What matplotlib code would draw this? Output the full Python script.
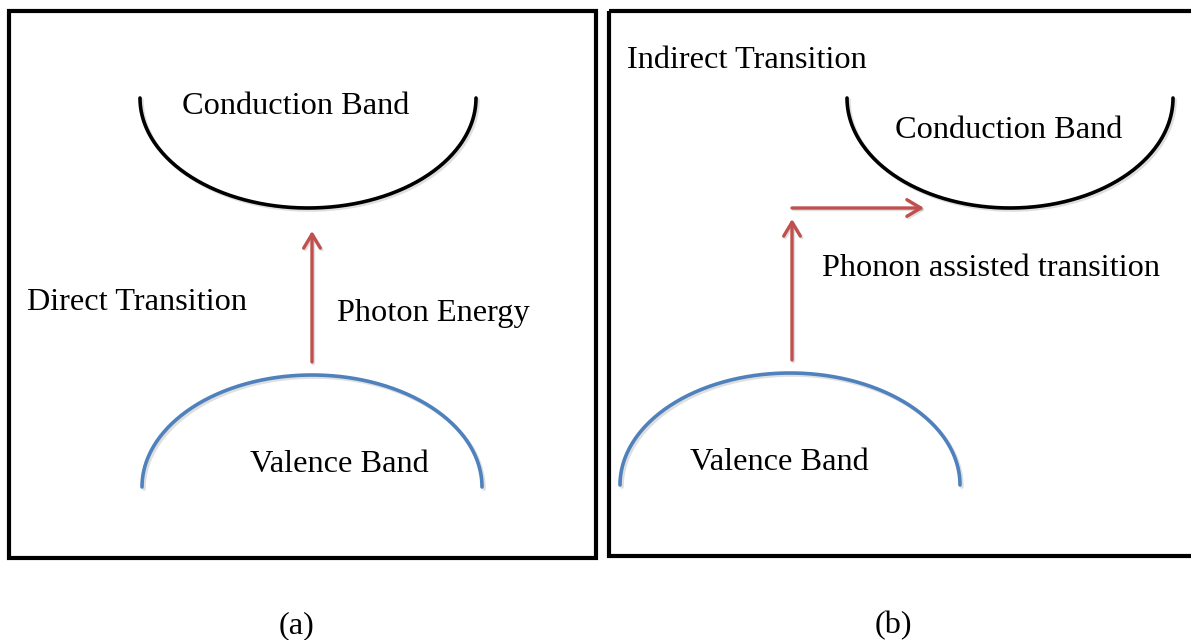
import matplotlib.pyplot as plt
from matplotlib.patches import Rectangle
import numpy as np

# band diagrams for direct (a) and indirect (b) transitions, pixel coordinates

# bands: (centre x, rim y, half width, depth, opens up?)
cond_a = (308, 98, 168, 110, True)
val_a = (312, 487, 170, 112, False)
cond_b = (1010, 98, 163, 110, True)
val_b = (790, 485, 170, 112, False)

# arrows: (x0, y0, x1, y1)
photon_a = (312, 362, 312, 231)
photon_b = (792, 360, 792, 219)
phonon_b = (792, 208, 924, 208)

# boxes: (left, top, right, bottom)
box_a = (9, 11, 596, 558)
box_b = (609, 11, 1200, 556)

labels = [
    ('Conduction Band', 296, 106, 'center'),
    ('Direct Transition', 27, 302, 'left'),
    ('Photon Energy', 337, 314, 'left'),
    ('Valence Band', 250, 465, 'left'),
    ('(a)', 297, 626, 'center'),
    ('Indirect Transition', 627, 60, 'left'),
    ('Conduction Band', 895, 131, 'left'),
    ('Phonon assisted transition', 822, 269, 'left'),
    ('Valence Band', 690, 462, 'left'),
    ('(b)', 893, 626, 'center'),
]

red = '#C0504D'
blue = '#4F81BD'

fig = plt.figure(figsize=(11.91, 6.4), dpi=100)
ax = fig.add_axes([0, 0, 1, 1])
ax.set_xlim(0, 1191)
ax.set_ylim(640, 0)
ax.axis('off')

for l, t, r, b in [box_a, box_b]:
    ax.add_patch(Rectangle((l, t), r - l, b - t, fill=False, ec='black', lw=3))

def band(c, color):
    cx, cy, a, d, up = c
    th = np.linspace(0, np.pi, 200)
    x = cx - a * np.cos(th)
    y = cy + d * np.sin(th) if up else cy - d * np.sin(th)
    # soft shadow under the curve
    ax.plot(x + 2, y + 2, color='grey', lw=2.6, alpha=0.25, solid_capstyle='round')
    ax.plot(x, y, color=color, lw=2.6, solid_capstyle='round')

band(cond_a, 'black')
band(val_a, blue)
band(cond_b, 'black')
band(val_b, blue)

style = '->,head_length=1.0,head_width=0.6'
for x0, y0, x1, y1 in [photon_a, photon_b, phonon_b]:
    ax.annotate('', xy=(x1 + 1.5, y1 + 1.5), xytext=(x0 + 1.5, y0 + 1.5),
                arrowprops=dict(arrowstyle=style, color='grey', lw=2.4,
                                alpha=0.25, shrinkA=0, shrinkB=0))
    ax.annotate('', xy=(x1, y1), xytext=(x0, y0),
                arrowprops=dict(arrowstyle=style, color=red, lw=2.4,
                                shrinkA=0, shrinkB=0))

for s, x, y, ha in labels:
    ax.text(x, y, s, ha=ha, va='center', fontsize=23.3,
            family='Liberation Serif', color='black')

fig.savefig('out.png', dpi=100)
